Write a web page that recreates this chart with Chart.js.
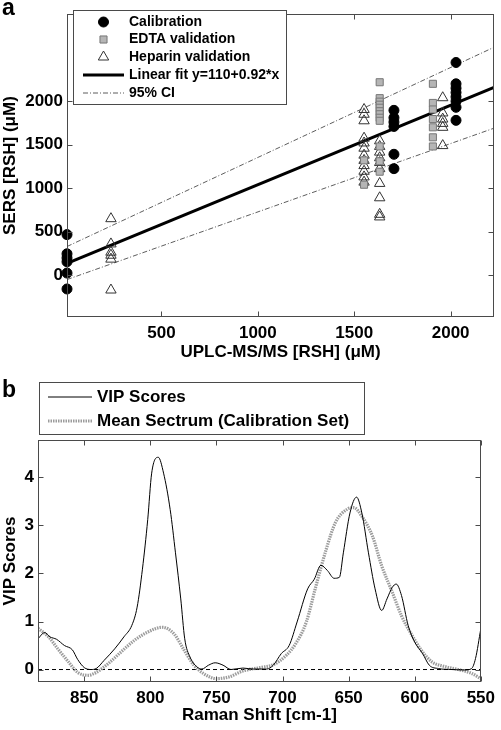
<!DOCTYPE html>
<html>
<head>
<meta charset="utf-8">
<script src="https://cdn.jsdelivr.net/npm/chart.js@4.4.0/dist/chart.umd.min.js"></script>
<style>
  html, body { margin: 0; padding: 0; background: #fff; }
  #wrap { position: relative; width: 501px; height: 730px; }
  canvas { position: absolute; left: 0; }
  #chartA { top: 0; }
  #chartB { top: 367px; }
</style>
</head>
<body>
<div id="wrap">
  <canvas id="chartA" width="501" height="367"></canvas>
  <canvas id="chartB" width="501" height="363"></canvas>
</div>
<script>
// ---- panel a: SERS vs UPLC-MS/MS ----
const calibrationX = [10, 10, 10, 10, 10, 10, 1706, 1706, 1706, 1706, 1706, 1706,
    2028, 2028, 2028, 2028, 2028, 2028, 2028, 2028];
const calibrationY = [467, 246, 199, 155, 25, -158, 1895, 1810, 1760, 1710, 1390, 1225,
    2445, 2200, 2150, 2100, 2050, 2000, 1930, 1780];

const edtaX = [1632, 1632, 1632, 1632, 1632, 1632, 1632, 1632, 1632, 1632, 1632, 1632,
    1551, 1551, 1908, 1908, 1908, 1908, 1908, 1908, 1908];
const edtaY = [2218, 2035, 1995, 1960, 1925, 1885, 1850, 1810, 1775, 1480, 1310, 1190,
    1320, 1040, 2200, 1980, 1905, 1795, 1700, 1585, 1480];

const heparinX = [238, 238, 238, 238, 238, 238,
    1551, 1551, 1551, 1551, 1551, 1551, 1551, 1551, 1551, 1551, 1551, 1551,
    1632, 1632, 1632, 1632, 1632, 1632, 1632, 1632, 1632, 1632,
    1959, 1959, 1959, 1959, 1959, 1959];
const heparinY = [650, 360, 265, 230, 185, -170,
    1905, 1850, 1775, 1575, 1520, 1460, 1380, 1320, 1260, 1195, 1130, 1070,
    1545, 1480, 1415, 1350, 1295, 1225, 1055, 890, 700, 670,
    2040, 1865, 1795, 1745, 1700, 1490];

const fitX = [10, 2225];
const fitY = [135, 2160];
const ciUpperY = [330, 2620];
const ciLowerY = [-50, 1690];

const xTicksA = [500, 1000, 1500, 2000];
const yTicksA = [0, 500, 1000, 1500, 2000];

// ---- panel b: VIP scores vs Raman shift ----
const vipX = [885, 880, 876, 871, 865, 859, 855, 850, 845, 841, 835, 827, 820, 814, 810,
    806, 802, 799, 794, 790, 785, 781, 777, 774, 770, 765, 761, 756, 751, 745, 739, 730,
    722, 712, 707, 701, 695, 689, 681, 676, 671, 666, 661, 657, 654, 649, 644, 640, 635,
    630, 625, 621, 617, 614, 610, 605, 600, 594, 589, 582, 572, 562, 557, 554, 550];
const vipY = [0.64, 0.77, 0.68, 0.63, 0.50, 0.41, 0.21, 0.04, 0.00, 0.02, 0.19, 0.43, 0.68,
    0.92, 1.30, 2.09, 3.12, 4.09, 4.42, 4.09, 3.33, 2.43, 1.47, 0.64, 0.26, 0.06, 0.01,
    0.09, 0.14, 0.09, 0.00, 0.03, 0.01, 0.01, 0.09, 0.33, 0.50, 0.99, 1.68, 1.88, 2.17,
    2.06, 1.90, 1.92, 2.43, 3.26, 3.59, 3.26, 2.43, 1.68, 1.23, 1.47, 1.71, 1.78, 1.54,
    0.92, 0.57, 0.33, 0.09, 0.02, 0.00, -0.01, 0.02, 0.23, 0.85];

const meanX = [885, 877, 870, 862, 855, 847, 841, 832, 822, 812, 802, 791, 782, 775, 767,
    760, 750, 740, 730, 717, 707, 697, 690, 682, 675, 667, 660, 651, 646, 640, 632, 625,
    617, 610, 602, 595, 587, 577, 567, 557, 550];
const meanY = [0.86, 0.68, 0.43, 0.16, -0.06, -0.12, -0.06, 0.12, 0.37, 0.61, 0.78, 0.88,
    0.74, 0.43, 0.09, -0.08, -0.19, -0.15, -0.03, 0.04, 0.10, 0.30, 0.54, 0.99, 1.71, 2.50,
    3.06, 3.34, 3.37, 3.19, 2.78, 2.16, 1.61, 1.12, 0.71, 0.40, 0.16, 0.06, 0.00, -0.08, -0.19];

const zeroX = [885, 550];
const zeroY = [0, 0];

const xTicksB = [850, 800, 750, 700, 650, 600, 550];
const yTicksB = [0, 1, 2, 3, 4];

// -------------------------------------------------------------
const FONT = '"Liberation Sans", Arial, Helvetica, sans-serif';

function pts(xs, ys) {
    return xs.map((x, i) => ({ x: x, y: ys[i] }));
}

// box around plot area with inward tick marks on all 4 sides (matlab look)
const framePlugin = {
    id: 'frame',
    afterDraw(chart) {
        const ctx = chart.ctx;
        const a = chart.chartArea;
        const L = Math.round(a.left) + 0.5, R = Math.round(a.right) - 0.5;
        const T = Math.round(a.top) + 0.5, B = Math.round(a.bottom) - 0.5;
        ctx.save();
        ctx.strokeStyle = '#4a4a4a';
        ctx.lineWidth = 1;
        ctx.strokeRect(L, T, R - L, B - T);
        ctx.beginPath();
        chart.scales.x.ticks.forEach(t => {
            const px = Math.round(chart.scales.x.getPixelForValue(t.value)) + 0.5;
            ctx.moveTo(px, B); ctx.lineTo(px, B - 5);
            ctx.moveTo(px, T); ctx.lineTo(px, T + 5);
        });
        chart.scales.y.ticks.forEach(t => {
            const py = Math.round(chart.scales.y.getPixelForValue(t.value)) + 0.5;
            ctx.moveTo(L, py); ctx.lineTo(L + 5, py);
            ctx.moveTo(R, py); ctx.lineTo(R - 5, py);
        });
        ctx.stroke();
        ctx.restore();
    }
};

// boxed legend + panel letter, drawn where the options say
const boxLegend = {
    id: 'boxLegend',
    afterDraw(chart, args, o) {
        const ctx = chart.ctx;
        ctx.save();
        ctx.fillStyle = '#000';
        ctx.font = 'bold 23px ' + FONT;
        ctx.textBaseline = 'alphabetic';
        ctx.fillText(o.letter, o.letterX, o.letterY);

        ctx.fillStyle = '#fff';
        ctx.fillRect(o.x, o.y, o.w, o.h);
        ctx.strokeStyle = '#4a4a4a';
        ctx.lineWidth = 1;
        ctx.strokeRect(o.x + 0.5, o.y + 0.5, o.w, o.h);

        ctx.font = 'bold ' + o.fontSize + 'px ' + FONT;
        ctx.textBaseline = 'middle';
        o.items.forEach((idx, i) => {
            const ds = chart.data.datasets[idx];
            const y = o.rowY[i];
            ctx.save();
            if (ds.type === 'scatter') {
                const mx = (o.lineX0 + o.lineX1) / 2;
                ctx.fillStyle = ds.backgroundColor;
                ctx.strokeStyle = ds.borderColor;
                ctx.lineWidth = ds.borderWidth || 1;
                const r = ds.pointRadius;
                ctx.beginPath();
                if (ds.pointStyle === 'circle') {
                    ctx.arc(mx, y, r, 0, Math.PI * 2);
                } else if (ds.pointStyle === 'rect') {
                    const s = r * Math.SQRT1_2;
                    ctx.rect(mx - s, y - s, 2 * s, 2 * s);
                } else {
                    ctx.moveTo(mx, y - r);
                    ctx.lineTo(mx + r * 0.866, y + r / 2);
                    ctx.lineTo(mx - r * 0.866, y + r / 2);
                    ctx.closePath();
                }
                ctx.fill();
                ctx.stroke();
            } else {
                ctx.strokeStyle = ds.borderColor;
                ctx.lineWidth = ds.borderWidth;
                ctx.setLineDash(ds.borderDash || []);
                ctx.beginPath();
                ctx.moveTo(o.lineX0, y);
                ctx.lineTo(o.lineX1, y);
                ctx.stroke();
            }
            ctx.restore();
            ctx.fillStyle = '#000';
            ctx.fillText(ds.label, o.textX, y);
        });
        ctx.restore();
    }
};

function axis(min, max, tickList, size, title, horizontal, reverse) {
    return {
        type: 'linear',
        min: min,
        max: max,
        reverse: !!reverse,
        afterBuildTicks: s => { s.ticks = tickList.map(v => ({ value: v })); },
        afterFit: s => { if (horizontal) s.height = size; else s.width = size; },
        grid: { display: false, drawTicks: false },
        border: { display: false },
        ticks: {
            color: '#000',
            padding: horizontal ? 6 : 4,
            maxRotation: 0,
            autoSkip: false,
            callback: v => String(v),
            font: { family: FONT, size: 17, weight: 'bold' }
        },
        title: {
            display: true,
            text: title,
            color: '#000',
            padding: horizontal ? { top: 0, bottom: 4 } : { top: 0, bottom: 0 },
            font: { family: FONT, size: 17, weight: 'bold' }
        }
    };
}

// ---- chart a ----
const datasetsA = [
    {
        type: 'scatter', label: 'Calibration', data: pts(calibrationX, calibrationY),
        pointStyle: 'circle', pointRadius: 5, backgroundColor: '#000', borderColor: '#000',
        borderWidth: 1, clip: false
    },
    {
        type: 'scatter', label: 'EDTA validation', data: pts(edtaX, edtaY),
        pointStyle: 'rect', pointRadius: 5, backgroundColor: '#b5b5b5', borderColor: '#777',
        borderWidth: 1, clip: false
    },
    {
        type: 'scatter', label: 'Heparin validation', data: pts(heparinX, heparinY),
        pointStyle: 'triangle', pointRadius: 6, backgroundColor: 'rgba(255,255,255,0)',
        borderColor: '#333', borderWidth: 1, clip: false
    },
    {
        type: 'line', label: 'Linear fit y=110+0.92*x', data: pts(fitX, fitY),
        borderColor: '#000', borderWidth: 3, pointRadius: 0
    },
    {
        type: 'line', label: '95% CI', data: pts(fitX, ciUpperY),
        borderColor: '#333', borderWidth: 0.8, borderDash: [5, 2, 1, 2], pointRadius: 0
    },
    {
        type: 'line', label: '95% CI lower', data: pts(fitX, ciLowerY),
        borderColor: '#333', borderWidth: 0.8, borderDash: [5, 2, 1, 2], pointRadius: 0
    }
];

new Chart(document.getElementById('chartA'), {
    type: 'scatter',
    data: { datasets: datasetsA },
    options: {
        responsive: false,
        animation: false,
        events: [],
        layout: { padding: { top: 3, right: 3, left: 0, bottom: 0 } },
        scales: {
            x: axis(10, 2225, xTicksA, 50, 'UPLC-MS/MS [RSH] (\u03BCM)', true),
            y: axis(-480, 3000, yTicksA, 67, 'SERS [RSH] (\u03BCM)', false)
        },
        plugins: {
            legend: { display: false },
            tooltip: { enabled: false },
            boxLegend: {
                letter: 'a', letterX: 2, letterY: 15,
                x: 73, y: 10, w: 213, h: 94,
                rowY: [22, 39.5, 57, 75, 93],
                lineX0: 83, lineX1: 124, textX: 129, fontSize: 14,
                items: [0, 1, 2, 3, 4]
            }
        }
    },
    plugins: [framePlugin, boxLegend]
});

// ---- chart b ----
const datasetsB = [
    {
        type: 'line', label: 'VIP Scores', data: pts(vipX, vipY),
        borderColor: '#000', borderWidth: 1, pointRadius: 0, cubicInterpolationMode: 'monotone'
    },
    {
        type: 'line', label: 'Mean Sectrum (Calibration Set)', data: pts(meanX, meanY),
        borderColor: '#9c9c9c', borderWidth: 3.2, borderDash: [1.5, 1], pointRadius: 0,
        cubicInterpolationMode: 'monotone'
    },
    {
        type: 'line', label: 'zero', data: pts(zeroX, zeroY),
        borderColor: '#000', borderWidth: 1, borderDash: [4, 3], pointRadius: 0
    }
];

new Chart(document.getElementById('chartB'), {
    type: 'line',
    data: { datasets: datasetsB },
    options: {
        responsive: false,
        animation: false,
        events: [],
        layout: { padding: { top: 73, right: 16, left: 0, bottom: 0 } },
        scales: {
            x: axis(550, 885, xTicksB, 48, 'Raman Shift [cm-1]', true, true),
            y: axis(-0.26, 4.78, yTicksB, 38, 'VIP Scores', false)
        },
        plugins: {
            legend: { display: false },
            tooltip: { enabled: false },
            boxLegend: {
                letter: 'b', letterX: 2, letterY: 30,
                x: 39, y: 15, w: 325, h: 52,
                rowY: [30, 54],
                lineX0: 48, lineX1: 92, textX: 97, fontSize: 17,
                items: [0, 1]
            }
        }
    },
    plugins: [framePlugin, boxLegend]
});
</script>
</body>
</html>
